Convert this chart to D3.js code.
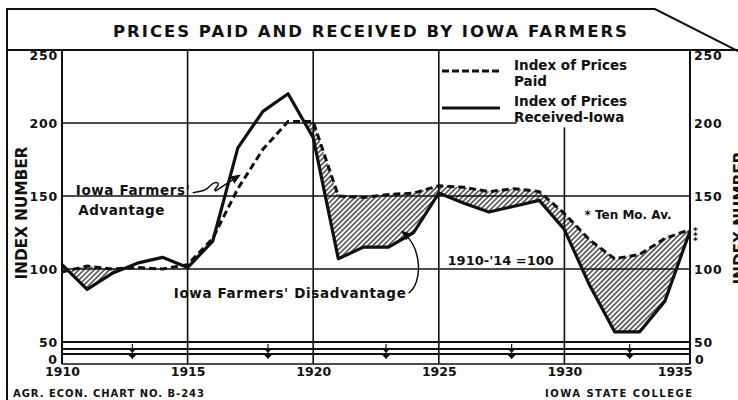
<!DOCTYPE html>
<html>
<head>
<meta charset="utf-8">
<script src="https://cdn.jsdelivr.net/npm/d3@7"></script>
<style>
  body { margin: 0; background: #fff; }
  text { font-family: "DejaVu Sans", sans-serif; font-weight: bold; fill: #111; }
</style>
</head>
<body>
<div id="chart"></div>
<script>
// yearly index numbers, 1910-14 = 100 (1935 is a ten month average)
var years = [1910, 1911, 1912, 1913, 1914, 1915, 1916, 1917, 1918, 1919, 1920, 1921, 1922,
  1923, 1924, 1925, 1926, 1927, 1928, 1929, 1930, 1931, 1932, 1933, 1934, 1935];
var paid = [98, 102, 100, 101, 100, 103, 121, 155, 182, 201, 201, 150, 149,
  151, 152, 157, 156, 153, 155, 153, 138, 120, 107, 110, 121, 127];
var received = [103, 86, 97, 104, 108, 101, 119, 183, 208, 220, 190, 107, 115,
  115, 125, 152, 145, 139, 143, 147, 127, 89, 57, 57, 78, 126];

var xTicks = [1910, 1915, 1920, 1925, 1930, 1935];
var yTicks = [50, 100, 150, 200, 250];
var lowTicks = [0];
var gridYears = [1915, 1920, 1925, 1930];
var gridValues = [100, 150, 200];
var breakYears = [1912.8, 1918.2, 1922.9, 1927.9, 1932.6];

var rows = years.map(function (yr, i) {
  return { year: yr, paid: paid[i], received: received[i] };
});

// plot frame (not "top": window.top is taken)
var plotLeft = 62, plotRight = 690, plotTop = 50, plotBottom = 364;

var svg = d3.select("#chart")
  .append("svg")
  .attr("width", 738)
  .attr("height", 400);

var x = d3.scaleLinear().domain([1910, 1935]).range([plotLeft, plotRight]);
var y = d3.scaleLinear().domain([50, 250]).range([342, plotTop]);
// compressed part under the axis break
var yLow = d3.scaleLinear().domain([0, 50]).range([359, 342]);

// legend block blanks part of the grid in the upper right
var legendLeftYear = 1928.1, legendFloor = 197;

var defs = svg.append("defs");

defs.append("pattern")
  .attr("id", "hatch")
  .attr("patternUnits", "userSpaceOnUse")
  .attr("width", 3.6)
  .attr("height", 3.6)
  .attr("patternTransform", "rotate(45)")
  .append("line")
  .attr("x1", 1.8).attr("y1", 0)
  .attr("x2", 1.8).attr("y2", 3.6)
  .attr("stroke", "#111")
  .attr("stroke-width", 1.2);

// everything under the "paid" line
defs.append("clipPath")
  .attr("id", "belowPaid")
  .append("path")
  .attr("d", d3.area()
    .x(function (d) { return x(d.year); })
    .y0(plotBottom)
    .y1(function (d) { return y(d.paid); })(rows));

defs.append("marker")
  .attr("id", "arrow")
  .attr("viewBox", "0 0 10 10")
  .attr("refX", 8).attr("refY", 5)
  .attr("markerWidth", 7).attr("markerHeight", 7)
  .attr("orient", "auto")
  .append("path")
  .attr("d", "M0,1 L10,5 L0,9 Z")
  .attr("fill", "#111");

// outer frame and title box
var frame = svg.append("g").attr("fill", "none").attr("stroke", "#111").attr("stroke-width", 2);
frame.append("path").attr("d", "M7,400 V9 H655 L738,51");
frame.append("line").attr("x1", 7).attr("x2", 738).attr("y1", plotTop).attr("y2", plotTop);

svg.append("text")
  .attr("x", 370).attr("y", 37)
  .attr("text-anchor", "middle")
  .attr("font-size", 16.5)
  .attr("textLength", 514)
  .attr("lengthAdjust", "spacing")
  .text("PRICES PAID AND RECEIVED BY IOWA FARMERS");

// grid
var grid = svg.append("g").attr("stroke", "#111").attr("stroke-width", 1.6);
grid.selectAll("vgrid")
  .data(gridYears)
  .enter()
  .append("line")
  .attr("x1", function (d) { return x(d); })
  .attr("x2", function (d) { return x(d); })
  .attr("y1", function (d) { return d > legendLeftYear ? y(legendFloor) : plotTop; })
  .attr("y2", plotBottom);
grid.selectAll("hgrid")
  .data(gridValues)
  .enter()
  .append("line")
  .attr("x1", plotLeft)
  .attr("x2", function (d) { return d >= legendFloor ? x(legendLeftYear) : plotRight; })
  .attr("y1", function (d) { return y(d); })
  .attr("y2", function (d) { return y(d); });

// axis lines and the break band
var axes = svg.append("g").attr("stroke", "#111").attr("stroke-width", 2);
axes.append("line").attr("x1", plotLeft).attr("x2", plotLeft).attr("y1", plotTop).attr("y2", plotBottom);
axes.append("line").attr("x1", plotRight).attr("x2", plotRight).attr("y1", plotTop).attr("y2", plotBottom);
axes.append("line").attr("x1", plotLeft).attr("x2", plotRight).attr("y1", y(50)).attr("y2", y(50));
axes.append("line").attr("x1", plotLeft).attr("x2", plotRight).attr("y1", y(50) + 7).attr("y2", y(50) + 7);
axes.append("line").attr("x1", plotLeft).attr("x2", plotRight).attr("y1", y(50) + 12).attr("y2", y(50) + 12);
axes.append("line").attr("x1", plotLeft).attr("x2", plotRight).attr("y1", plotBottom).attr("y2", plotBottom)
  .attr("stroke-width", 1.5);

svg.selectAll("breakMark")
  .data(breakYears)
  .enter()
  .append("path")
  .attr("d", function (d) {
    var bx = x(d), b = y(50);
    return "M" + bx + "," + (b + 2) + "V" + (b + 17) +
      "M" + (bx - 3) + "," + (b + 7) + "L" + (bx + 3) + "," + (b + 7) + "L" + bx + "," + (b + 10) + "Z" +
      "M" + (bx - 3) + "," + (b + 13) + "L" + (bx + 3) + "," + (b + 13) + "L" + bx + "," + (b + 16) + "Z";
  })
  .attr("fill", "#111")
  .attr("stroke", "#111")
  .attr("stroke-width", 1.2);

// hatched gap where prices received fall below prices paid
svg.append("path")
  .attr("d", d3.area()
    .x(function (d) { return x(d.year); })
    .y0(function (d) { return y(d.received); })
    .y1(plotTop)(rows))
  .attr("fill", "url(#hatch)")
  .attr("clip-path", "url(#belowPaid)");

var lineReceived = d3.line()
  .x(function (d) { return x(d.year); })
  .y(function (d) { return y(d.received); });
var linePaid = d3.line()
  .x(function (d) { return x(d.year); })
  .y(function (d) { return y(d.paid); });

svg.append("path")
  .attr("d", lineReceived(rows))
  .attr("fill", "none")
  .attr("stroke", "#111")
  .attr("stroke-width", 3.2)
  .attr("stroke-linejoin", "round");

svg.append("path")
  .attr("d", linePaid(rows))
  .attr("fill", "none")
  .attr("stroke", "#111")
  .attr("stroke-width", 3)
  .attr("stroke-dasharray", "7,4");

// axis labels
function styleAxis(g) {
  g.select(".domain").remove();
  g.attr("font-family", null).attr("font-size", 12.5);
}

svg.append("g")
  .attr("transform", "translate(0," + plotBottom + ")")
  .call(d3.axisBottom(x).tickValues(xTicks).tickFormat(d3.format("d")).tickSize(0).tickPadding(3))
  .call(styleAxis)
  .selectAll("text")
  .filter(function (d) { return d === 1935; })
  .attr("text-anchor", "end")
  .attr("x", 2);

[[d3.axisLeft, plotLeft], [d3.axisRight, plotRight]].forEach(function (a) {
  var g = svg.append("g")
    .attr("transform", "translate(" + a[1] + ",0)")
    .call(a[0](y).tickValues(yTicks).tickSize(0).tickPadding(4))
    .call(styleAxis);
  g.selectAll("text").attr("letter-spacing", 0.8)
    .filter(function (d) { return d === 250; })
    .attr("dy", "0.75em");
  svg.append("g")
    .attr("transform", "translate(" + a[1] + ",0)")
    .call(a[0](yLow).tickValues(lowTicks).tickSize(0).tickPadding(5))
    .call(styleAxis);
});

svg.append("text")
  .attr("transform", "translate(27,213) rotate(-90)")
  .attr("text-anchor", "middle")
  .attr("font-size", 15.5)
  .attr("textLength", 133)
  .text("INDEX NUMBER");
svg.append("text")
  .attr("transform", "translate(745,218) rotate(-90)")
  .attr("text-anchor", "middle")
  .attr("font-size", 15.5)
  .attr("textLength", 133)
  .text("INDEX NUMBER");

// legend
var legend = svg.append("g").attr("font-size", 13.5);
legend.append("line")
  .attr("x1", 442).attr("x2", 500).attr("y1", 71).attr("y2", 71)
  .attr("stroke", "#111").attr("stroke-width", 3).attr("stroke-dasharray", "7,3");
legend.append("line")
  .attr("x1", 442).attr("x2", 500).attr("y1", 108).attr("y2", 108)
  .attr("stroke", "#111").attr("stroke-width", 3.2);
legend.append("text").attr("x", 514).attr("y", 70).text("Index of Prices");
legend.append("text").attr("x", 514).attr("y", 86).text("Paid");
legend.append("text").attr("x", 514).attr("y", 106).text("Index of Prices");
legend.append("text").attr("x", 514).attr("y", 122).text("Received-Iowa");

// annotations
var note = svg.append("g").attr("font-size", 13.5);
note.append("text").attr("x", x(1910.55)).attr("y", y(151)).attr("textLength", 114).text("Iowa Farmers'");
note.append("text").attr("x", x(1910.65)).attr("y", y(137)).attr("textLength", 86).text("Advantage");
note.append("text").attr("x", x(1914.45)).attr("y", y(80)).attr("textLength", 232).text("Iowa Farmers' Disadvantage");
note.append("text").attr("x", x(1925.35)).attr("y", y(102.5)).attr("font-size", 13).text("1910-'14 =100");
note.append("text").attr("x", x(1930.8)).attr("y", y(134.5)).attr("font-size", 12).text("* Ten Mo. Av.");

var ax = x(1915.2), ay = y(153.5);
note.append("path")
  .attr("d", "M" + ax + "," + (ay + 2) + " c6,-2 10,-1 14,-4 c4,-3 7,-8 11,-6 c3,2 -5,7 -2,8 L" +
    x(1917.05) + "," + y(164))
  .attr("fill", "none").attr("stroke", "#111").attr("stroke-width", 1.5)
  .attr("marker-end", "url(#arrow)");

var dx = x(1923.8), dy = y(83.5);
note.append("path")
  .attr("d", "M" + dx + "," + dy + " C" + (dx + 14) + "," + (dy - 10) + " " + (dx + 14) + "," + (dy - 45) + " " +
    x(1923.55) + "," + y(125.5))
  .attr("fill", "none").attr("stroke", "#111").attr("stroke-width", 1.5)
  .attr("marker-end", "url(#arrow)");

// ten month marks stacked at the last point
note.append("text")
  .attr("x", x(1935) + 3)
  .attr("y", y(received[received.length - 1]) + 3)
  .attr("font-size", 9)
  .selectAll("tspan")
  .data([0, 1, 2])
  .enter()
  .append("tspan")
  .attr("x", x(1935) + 3)
  .attr("dy", function (d) { return d ? 5 : 0; })
  .text("*");

// footer
svg.append("text").attr("x", 13).attr("y", 397).attr("font-size", 10)
  .attr("textLength", 191).attr("lengthAdjust", "spacing").text("AGR. ECON. CHART NO. B-243");
svg.append("text").attr("x", 545).attr("y", 397).attr("font-size", 10)
  .attr("textLength", 147).attr("lengthAdjust", "spacing").text("IOWA STATE COLLEGE");
</script>
</body>
</html>
